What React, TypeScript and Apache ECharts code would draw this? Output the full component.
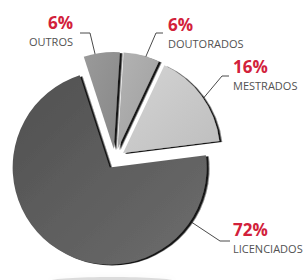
import React, { useEffect, useRef } from "react";
import * as echarts from "echarts";

// ---- data ----
const CATEGORIES = ["OUTROS", "DOUTORADOS", "MESTRADOS", "LICENCIADOS"];
const VALUES = [6, 6, 16, 72];

// ---- styles / layout ----
const SLICE_COLORS = [
  ["#9a9a9a", "#878787"],
  ["#b3b3b3", "#9e9e9e"],
  ["#d4d4d4", "#bebebe"],
  ["#505050", "#6c6c6c"],
];
const CENTER: [number, number] = [115, 159];
const RADIUS = 97;
const START_ANGLE = 108;
const OFFSET = 10;
const RED = "#d2213a";
const FONT = "'Open Sans', sans-serif";

// label block position + leader line (angle in degrees, distance from pie centre)
const LABEL_LAYOUT = [
  { x: 73, y: 12.2, align: "right", lineY: 20.8, gap: 7, bend: 10, anchorAngle: 100, anchorDist: 84 },
  { x: 168, y: 14.2, align: "left", lineY: 18.8, gap: 5, bend: 7, anchorAngle: 74, anchorDist: 96 },
  { x: 233, y: 56.2, align: "left", lineY: 19.8, gap: 4, bend: 7, anchorAngle: 33, anchorDist: 98 },
  { x: 233, y: 219.2, align: "left", lineY: 21.8, gap: 3, bend: 10, anchorAngle: -40, anchorDist: 92 },
];

export default function App() {
  const ref = useRef<HTMLDivElement>(null);
  useEffect(() => {
    document.body.style.margin = "0";
    if (!ref.current) return;
    const chart = echarts.init(ref.current, undefined, { renderer: "svg" });
    const total = VALUES.reduce((a, b) => a + b, 0);
    let cum = 0;
    const series = CATEGORIES.map((_, k) => {
      const mid = START_ANGLE - (360 * (cum + VALUES[k] / 2)) / total;
      cum += VALUES[k];
      const m = (mid * Math.PI) / 180;
      const c: [number, number] = [CENTER[0] + OFFSET * Math.cos(m), CENTER[1] - OFFSET * Math.sin(m)];
      const data = CATEGORIES.map((name, i) =>
        i === k
          ? {
              name,
              value: VALUES[i],
              itemStyle: {
                color: new echarts.graphic.LinearGradient(0, 0, 1, 1, [
                  { offset: 0, color: SLICE_COLORS[i][0] },
                  { offset: 1, color: SLICE_COLORS[i][1] },
                ]),
                shadowColor: "#151515",
                shadowOffsetX: 2.5,
                shadowOffsetY: 1,
                shadowBlur: 1,
              },
            }
          : {
              name,
              value: VALUES[i],
              itemStyle: { color: "rgba(0,0,0,0)" },
              label: { show: false },
              labelLine: { show: false },
            }
      );
      return {
        type: "pie",
        silent: true,
        center: c,
        radius: [0, RADIUS],
        startAngle: START_ANGLE,
        clockwise: true,
        avoidLabelOverlap: false,
        emphasis: { disabled: true },
        label: {
          show: true,
          position: "outside",
          fontFamily: FONT,
          formatter: "{p|{c}%}\n{n|{b}}",
          rich: {
            p: { fontFamily: FONT, fontSize: 17, fontWeight: "bold", color: RED, lineHeight: 21 },
            n: { fontFamily: FONT, fontSize: 11, color: "#525252", lineHeight: 16 },
          },
        },
        labelLine: {
          show: true,
          length: 10,
          length2: 10,
          lineStyle: { color: "#4a4a4a", width: 1 },
        },
        labelLayout: (params: any) => {
          const L = LABEL_LAYOUT[params.dataIndex];
          const ly = L.y + L.lineY;
          const sx = L.align === "right" ? L.x + L.gap : L.x - L.gap;
          const bx = L.align === "right" ? sx + L.bend : sx - L.bend;
          const a = (L.anchorAngle * Math.PI) / 180;
          const ax = CENTER[0] + L.anchorDist * Math.cos(a);
          const ay = CENTER[1] - L.anchorDist * Math.sin(a);
          return {
            x: L.x,
            y: L.y,
            align: L.align,
            verticalAlign: "top",
            labelLinePoints: [
              [sx, ly],
              [bx, ly],
              [ax, ay],
            ],
          };
        },
        data,
      };
    });
    chart.setOption({
      animation: false,
      backgroundColor: "#ffffff",
      graphic: [
        {
          type: "ellipse",
          shape: { cx: 112, cy: 281, rx: 62, ry: 4 },
          style: { fill: "rgba(0,0,0,0.12)", shadowBlur: 6, shadowColor: "rgba(0,0,0,0.25)" },
          z: -1,
        },
      ],
      series,
    });
    return () => chart.dispose();
  }, []);
  return (
    <div
      ref={ref}
      style={{ width: 308, height: 280, position: "absolute", left: 0, top: 0 }}
    />
  );
}
